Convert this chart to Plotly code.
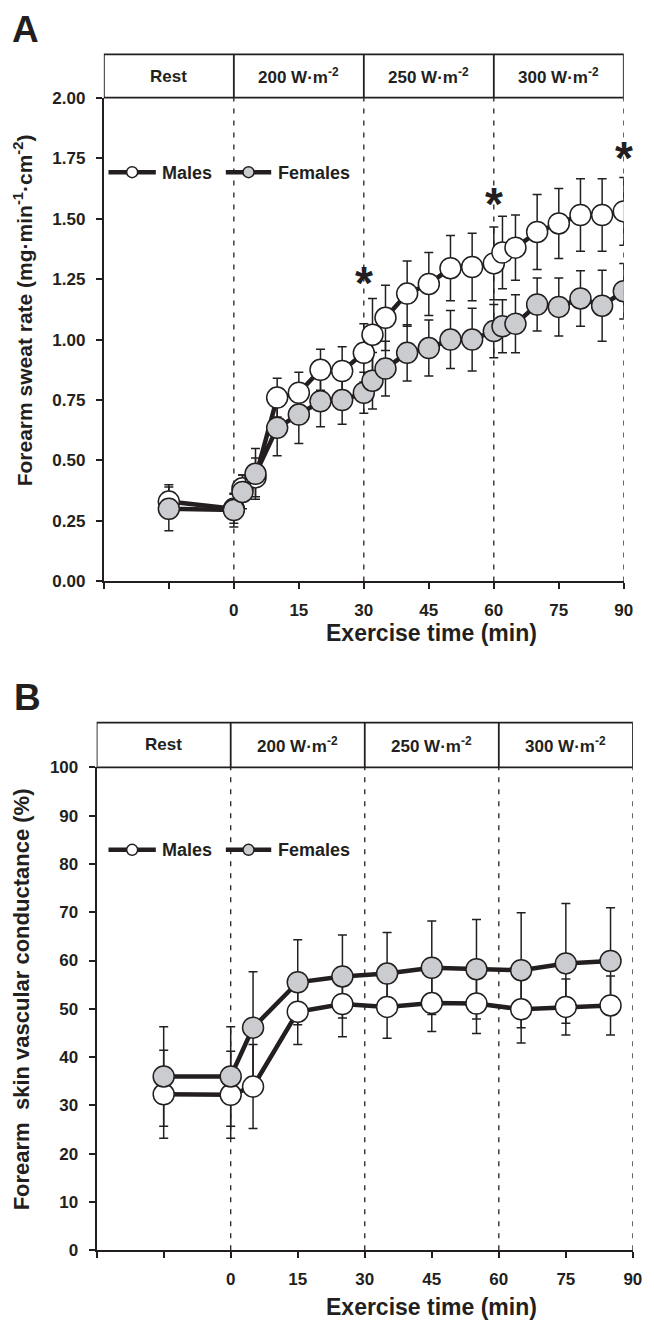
import plotly.graph_objects as go

# ---------------- data ----------------
# Panel A: forearm sweat rate (mg·min-1·cm-2)
time_a = [-15, 0, 2, 5, 10, 15, 20, 25, 30, 32, 35, 40, 45, 50, 55, 60, 62, 65, 70, 75, 80, 85, 90]
males_a = [0.33, 0.30, 0.385, 0.43, 0.76, 0.78, 0.875, 0.87, 0.945, 1.02, 1.09, 1.19, 1.23,
           1.295, 1.30, 1.315, 1.36, 1.38, 1.445, 1.48, 1.515, 1.515, 1.53]
males_a_sd = [0.07, 0.06, 0.055, 0.08, 0.08, 0.085, 0.085, 0.10, 0.12, 0.15, 0.135, 0.135, 0.13,
              0.135, 0.14, 0.15, 0.15, 0.135, 0.155, 0.145, 0.15, 0.15, 0.14]
females_a = [0.30, 0.295, 0.37, 0.445, 0.635, 0.69, 0.745, 0.75, 0.78, 0.83, 0.88, 0.945, 0.965,
             1.0, 1.0, 1.035, 1.055, 1.065, 1.145, 1.135, 1.17, 1.14, 1.2]
females_a_sd = [0.09, 0.07, 0.07, 0.105, 0.115, 0.12, 0.105, 0.10, 0.085, 0.117, 0.113, 0.116, 0.116,
                0.12, 0.13, 0.11, 0.11, 0.12, 0.11, 0.12, 0.115, 0.147, 0.115]
stars_x = [30, 60, 90]
stars_y = [1.26, 1.585, 1.776]

# Panel B: forearm skin vascular conductance (%)
time_b = [-15, 0, 5, 15, 25, 35, 45, 55, 65, 75, 85]
males_b = [32.3, 32.2, 33.9, 49.4, 51.0, 50.4, 51.2, 51.1, 49.9, 50.4, 50.7]
males_b_sd = [9.1, 9.0, 8.7, 6.8, 6.8, 6.5, 5.9, 6.2, 7.0, 5.8, 6.1]
females_b = [36.0, 36.0, 46.1, 55.5, 56.7, 57.3, 58.5, 58.2, 58.0, 59.4, 59.9]
females_b_sd = [10.3, 10.3, 11.6, 8.8, 8.6, 8.5, 9.7, 10.3, 11.9, 12.4, 11.0]

# axes / labels
x_tickvals = [0, 15, 30, 45, 60, 75, 90]
x_minor_tickvals = [-30, -15]
phase_bounds = [-30, 0, 30, 60, 90]
phase_labels = ["Rest", "200 W·m<sup>-2</sup>", "250 W·m<sup>-2</sup>", "300 W·m<sup>-2</sup>"]
ya_tickvals = [0, 0.25, 0.5, 0.75, 1.0, 1.25, 1.5, 1.75, 2.0]
yb_tickvals = [0, 10, 20, 30, 40, 50, 60, 70, 80, 90, 100]
series_names = ["Males", "Females"]

# ---------------- style ----------------
W, H = 654, 1331
INK = "#231f20"
GRAY = "#cbcccf"
FONT = "Liberation Sans, Arial, sans-serif"


def fx(p):
    return p / W


def fy(p):
    return 1 - p / H


panels = {
    "A": dict(left=105.3, right=632.5, top=90.0, bottom=580.7, head=46.0, leg=165.5,
              xtitle=633.0, ytitle_x=23.0, ytitle_y=306.0, lab_y=20.5, lab_x=10.0),
    "B": dict(left=98.0, right=641.7, top=769.3, bottom=1259.3, head=724.0, leg=853.0,
              xtitle=1317.0, ytitle_x=22.0, ytitle_y=1005.0, lab_y=698.0, lab_x=12.0),
}

fig = go.Figure()


def add_series(xax, yax, t, m, msd, f, fsd):
    for vals, sd in ((f, fsd), (m, msd)):
        fig.add_trace(go.Scatter(
            x=t, y=vals, mode="markers", xaxis=xax, yaxis=yax,
            marker=dict(size=2, color="rgba(0,0,0,0)"),
            error_y=dict(type="data", array=sd, visible=True, thickness=1.5, width=4.5, color=INK),
            showlegend=False, hoverinfo="skip"))
    for vals, fill, name in ((m, "white", series_names[0]), (f, GRAY, series_names[1])):
        fig.add_trace(go.Scatter(
            x=t, y=vals, mode="lines+markers", xaxis=xax, yaxis=yax, name=name,
            line=dict(color=INK, width=4.5),
            marker=dict(size=21, color=fill, line=dict(color=INK, width=1.5)),
            showlegend=False))


add_series("x", "y", time_a, males_a, males_a_sd, females_a, females_a_sd)
add_series("x2", "y2", time_b, males_b, males_b_sd, females_b, females_b_sd)

tickfont = dict(family=FONT, size=17, color=INK, weight="bold")
common_x = dict(range=[-30, 90], tickvals=x_tickvals, ticks="outside",
                ticklen=6, tickwidth=2, tickcolor=INK, showline=True, linewidth=2, linecolor=INK,
                showgrid=False, zeroline=False, tickfont=tickfont, ticklabelstandoff=6,
                minor=dict(tickvals=x_minor_tickvals, ticks="outside", ticklen=6, tickwidth=2,
                           tickcolor=INK, showgrid=False),
                fixedrange=True)
common_y = dict(ticks="outside", ticklen=6, tickwidth=2, tickcolor=INK, showline=True,
                linewidth=2, linecolor=INK, showgrid=False, zeroline=False, tickfont=tickfont,
                ticklabelstandoff=7, fixedrange=True)

pa, pb = panels["A"], panels["B"]
fig.update_layout(
    width=W, height=H, margin=dict(l=0, r=0, t=0, b=0),
    paper_bgcolor="white", plot_bgcolor="white", showlegend=False,
    xaxis=dict(domain=[fx(pa["left"]), fx(pa["right"])], anchor="y", **common_x),
    yaxis=dict(domain=[fy(pa["bottom"]), fy(pa["top"])], anchor="x", range=[0, 2],
               tickvals=ya_tickvals, tickformat=".2f", **common_y),
    xaxis2=dict(domain=[fx(pb["left"]), fx(pb["right"])], anchor="y2", **common_x),
    yaxis2=dict(domain=[fy(pb["bottom"]), fy(pb["top"])], anchor="x2", range=[0, 100],
                tickvals=yb_tickvals, **common_y),
)

shapes = []
annotations = []
ytitles = {
    "A": "Forearm sweat rate (mg·min<sup>-1</sup>·cm<sup>-2</sup>)",
    "B": "Forearm  skin vascular conductance (%)",
}
ytitle_size = {"A": 21, "B": 22}
for key, xr, yr, ymax in (("A", "x", "y", 2), ("B", "x2", "y2", 100)):
    p = panels[key]
    # dashed phase lines
    for b in phase_bounds[1:]:
        shapes.append(dict(type="line", xref=xr, yref=yr, x0=b, x1=b, y0=0, y1=ymax,
                           line=dict(color=INK, width=1.3, dash="5px,7px"), layer="below"))
    # header box
    shapes.append(dict(type="rect", xref=xr, yref="paper", x0=-30, x1=90,
                       y0=fy(p["top"]), y1=fy(p["head"]), line=dict(color=INK, width=1.8)))
    for b in phase_bounds[1:-1]:
        shapes.append(dict(type="line", xref=xr, yref="paper", x0=b, x1=b,
                           y0=fy(p["top"]), y1=fy(p["head"]), line=dict(color=INK, width=1.8)))
    for i, lab in enumerate(phase_labels):
        annotations.append(dict(xref=xr, yref="paper", x=(phase_bounds[i] + phase_bounds[i + 1]) / 2,
                                y=fy((p["top"] + p["head"]) / 2), text=lab, showarrow=False,
                                xanchor="center", yanchor="middle",
                                font=dict(family=FONT, size=17, color=INK, weight="bold")))
    # legend (manual)
    for (l0, l1, cx, tx), fill, name in (((110, 158, 134, 162), "white", series_names[0]),
                                         ((229, 275, 252, 280), GRAY, series_names[1])):
        shapes.append(dict(type="line", xref="paper", yref="paper", x0=fx(l0), x1=fx(l1),
                           y0=fy(p["leg"]), y1=fy(p["leg"]), line=dict(color=INK, width=4.5)))
        shapes.append(dict(type="circle", xref="paper", yref="paper", xsizemode="pixel",
                           ysizemode="pixel", xanchor=fx(cx), yanchor=fy(p["leg"]),
                           x0=-5.5, x1=5.5, y0=-5.5, y1=5.5, fillcolor=fill,
                           line=dict(color=INK, width=1.5)))
        annotations.append(dict(xref="paper", yref="paper", x=fx(tx), y=fy(p["leg"] + 0.5),
                                text=name, showarrow=False, xanchor="left", yanchor="middle",
                                font=dict(family=FONT, size=18, color=INK, weight="bold")))
    # axis titles
    annotations.append(dict(xref="paper", yref="paper", x=fx(438), y=fy(p["xtitle"]),
                            text="Exercise time (min)", showarrow=False, xanchor="center",
                            yanchor="middle",
                            font=dict(family=FONT, size=23, color=INK, weight="bold")))
    annotations.append(dict(xref="paper", yref="paper", x=fx(p["ytitle_x"]), y=fy(p["ytitle_y"]),
                            text=ytitles[key], showarrow=False, textangle=-90,
                            xanchor="center", yanchor="middle",
                            font=dict(family=FONT, size=ytitle_size[key], color=INK, weight="bold")))
    # panel letter
    annotations.append(dict(xref="paper", yref="paper", x=fx(p["lab_x"]), y=fy(p["lab_y"]),
                            text=key, showarrow=False, xanchor="left", yanchor="middle",
                            font=dict(family=FONT, size=37, color=INK, weight="bold")))

for sx, sy in zip(stars_x, stars_y):
    annotations.append(dict(xref="x", yref="y", x=sx, y=sy, text="*", showarrow=False,
                            xanchor="center", yanchor="middle", yshift=-6,
                            font=dict(family=FONT, size=46, color=INK, weight="bold")))

fig.update_layout(shapes=shapes, annotations=annotations)
fig.write_html("out.html")
